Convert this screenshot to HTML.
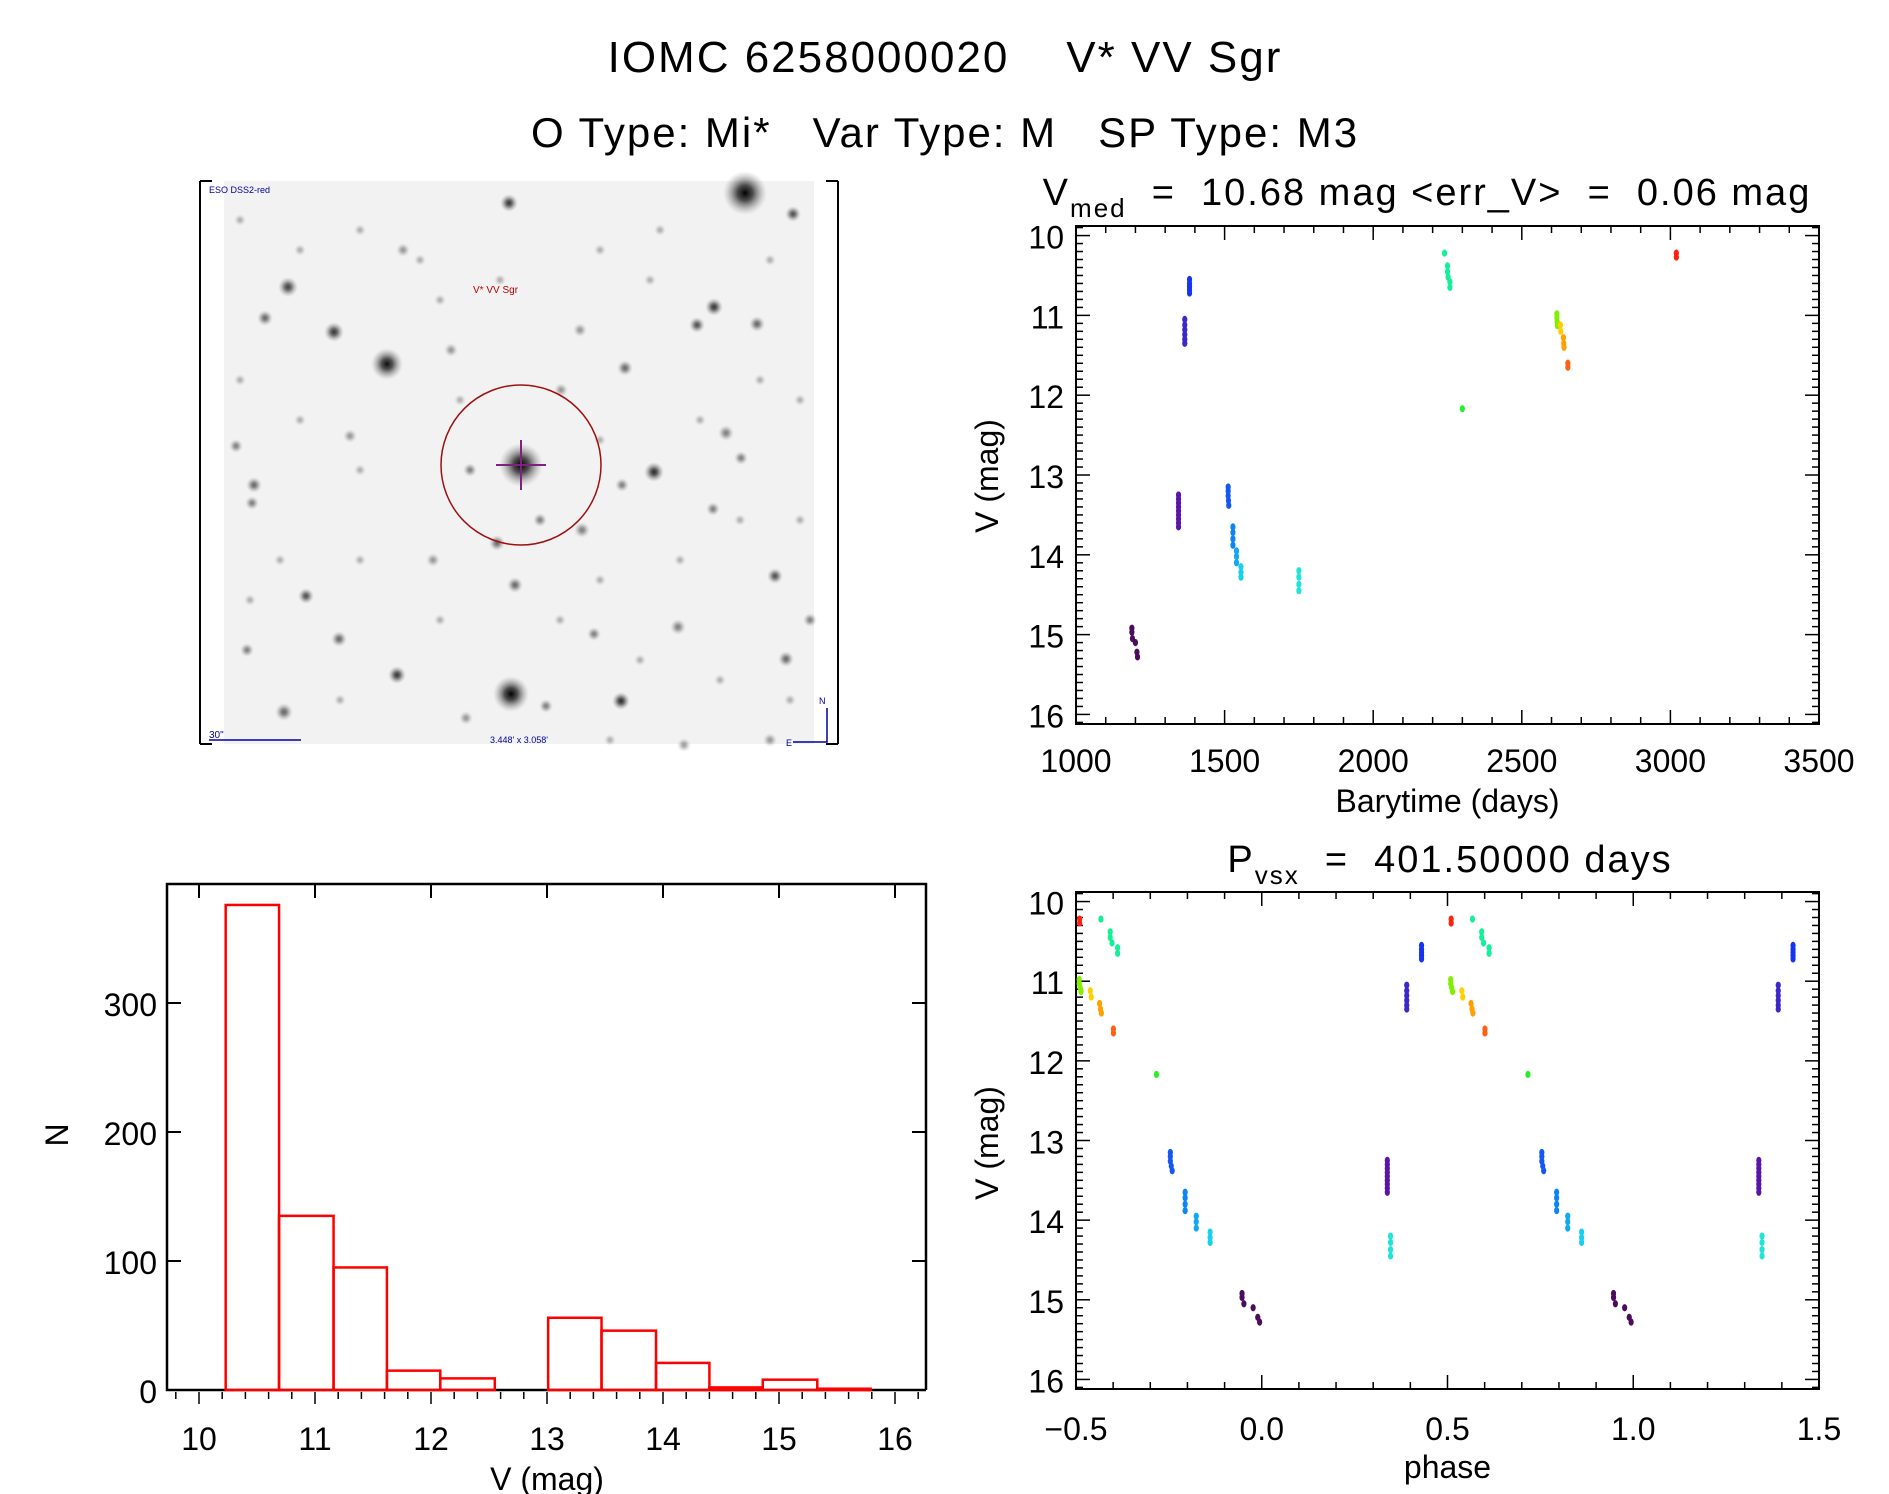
<!DOCTYPE html>
<html><head><meta charset="utf-8"><style>
html,body{margin:0;padding:0;background:#fff}
svg{display:block}
text{font-family:"Liberation Sans",sans-serif;fill:#000;white-space:pre}
</style></head><body>
<svg id="root" width="1889" height="1494" viewBox="0 0 1889 1494" xml:space="preserve">
<rect width="1889" height="1494" fill="#fff"/>
<text x="945" y="72" font-size="44" text-anchor="middle" letter-spacing="2">IOMC 6258000020    V* VV Sgr</text>
<text x="945" y="147" font-size="42" text-anchor="middle" letter-spacing="2">O Type: Mi*   Var Type: M   SP Type: M3</text>

<g id="img">
  <rect x="224" y="181" width="590" height="563" fill="#f2f2f2"/>
  <line x1="200" y1="181" x2="200" y2="744" stroke="#000" stroke-width="2"/>
  <line x1="200" y1="181" x2="212" y2="181" stroke="#000" stroke-width="2"/>
  <line x1="200" y1="744" x2="212" y2="744" stroke="#000" stroke-width="2"/>
  <line x1="838" y1="181" x2="838" y2="744" stroke="#000" stroke-width="2"/>
  <line x1="826" y1="181" x2="838" y2="181" stroke="#000" stroke-width="2"/>
  <line x1="826" y1="744" x2="838" y2="744" stroke="#000" stroke-width="2"/>
  <g id="stars"></g>
  <circle cx="521" cy="465" r="80" fill="none" stroke="#a01010" stroke-width="1.5"/>
  <line x1="496" y1="465" x2="546" y2="465" stroke="#802080" stroke-width="2"/>
  <line x1="521" y1="440" x2="521" y2="490" stroke="#802080" stroke-width="2"/>
  <text x="473" y="293" font-size="10" style="fill:#c00000">V* VV Sgr</text>
  <text x="209" y="193" font-size="9" style="fill:#0000a0">ESO DSS2-red</text>
  <text x="209" y="738" font-size="10" style="fill:#0000a0">30"</text>
  <line x1="209" y1="740" x2="301" y2="740" stroke="#0000a0" stroke-width="1.5"/>
  <text x="490" y="743" font-size="9" style="fill:#0000a0">3.448' x 3.058'</text>
  <path d="M793 742 L827 742 L827 708" fill="none" stroke="#0000a0" stroke-width="1.5"/>
  <text x="819" y="704" font-size="9" style="fill:#0000a0">N</text>
  <text x="786" y="746" font-size="9" style="fill:#0000a0">E</text>
</g>

<g id="lc"></g>
<g id="ph"></g>
<g id="hist"></g>
</svg>
<script>
// ---- data ----
const times = [1188,1188,1190,1200,1205,1207,
 1345,1345,1345,1345,1345,1345,1345,1345,1345,
 1366,1366,1366,1366,1366,1366,
 1382,1382,1382,1382,1382,
 1512,1512,1512,1513,1514,
 1528,1528,1528,1528,
 1540,1540,1540,
 1555,1555,1555,
 1750,1750,1750,1750,
 2240,2250,2250,2252,2258,2258,
 2300,
 2618,2618,2619,2620,
 2630,2631,
 2640,2641,2642,
 2655,2655,
 3020,3020];
const mags = [14.92,14.97,15.05,15.1,15.22,15.28,
 13.25,13.3,13.35,13.4,13.45,13.5,13.55,13.6,13.65,
 11.05,11.12,11.18,11.24,11.3,11.35,
 10.55,10.6,10.64,10.68,10.72,
 13.15,13.2,13.26,13.32,13.38,
 13.65,13.72,13.8,13.88,
 13.95,14.02,14.1,
 14.15,14.22,14.28,
 14.2,14.28,14.37,14.45,
 10.22,10.38,10.45,10.52,10.58,10.65,
 12.17,
 10.98,11.03,11.08,11.13,
 11.12,11.2,
 11.28,11.35,11.4,
 11.6,11.65,
 10.22,10.27];
const colorIdx = [0,0,0,0,0,0, 1,1,1,1,1,1,1,1,1, 2,2,2,2,2,2, 3,3,3,3,3, 4,4,4,4,4, 5,5,5,5, 6,6,6, 7,7,7, 8,8,8,8, 9,9,9,9,9,9, 10, 11,11,11,11, 12,12, 13,13,13, 14,14, 15,15];
const palette = ["#4b0c5c","#5a14a8","#3c28c8","#1434f0","#1458f0","#0c84f4","#10a8f0","#18d0ee","#20e4d8","#14f098","#28f028","#80f000","#ffd000","#ffa000","#ff6010","#ff2010"];
const period = 401.5;
const epoch = 1209.3;
const histEdges = [10.23,10.69,11.16,11.62,12.08,12.55,13.01,13.47,13.94,14.40,14.86,15.33,15.79];
const histCounts = [376,135,95,15,9,0,56,46,21,2,8,1];
const lcXTicks = [1000,1500,2000,2500,3000,3500];
const magTicks = [10,11,12,13,14,15,16];
const phXTicks = [-0.5,0.0,0.5,1.0,1.5];
const phXLabels = ["\u22120.5","0.0","0.5","1.0","1.5"];
const histXTicks = [10,11,12,13,14,15,16];
const histYTicks = [0,100,200,300];

const NS="http://www.w3.org/2000/svg";
function mk(parent,tag,attrs,txt){const e=document.createElementNS(NS,tag);for(const k in attrs)e.setAttribute(k,attrs[k]);if(txt!==undefined)e.textContent=txt;parent.appendChild(e);return e;}
function ln(g,x1,y1,x2,y2,w){return mk(g,"line",{x1,y1,x2,y2,stroke:"#000","stroke-width":w||2});}

// stars decoration
const stars=[[745,193,22,1],[387,364,16,.95],[511,694,18,1],[521,465,22,1],[334,332,10,.8],[654,472,10,.85],[621,701,9,.85],[288,287,10,.75],[509,203,9,.8],[714,307,9,.8],[697,325,8,.7],[397,675,9,.8],[625,368,8,.6],[254,485,8,.6],[306,596,8,.7],[775,576,8,.7],[678,627,8,.5],[339,639,8,.6],[726,433,8,.5],[582,530,8,.5],[497,543,8,.6],[515,585,8,.6],[741,458,7,.5],[793,214,8,.7],[284,712,9,.6],[757,324,8,.6],[265,318,8,.6],[236,446,7,.5],[252,503,7,.5],[810,620,7,.5],[786,659,8,.6],[713,509,7,.5],[594,634,7,.5],[466,718,7,.4],[350,436,7,.4],[433,560,7,.4],[546,706,7,.5],[770,740,7,.4],[247,650,7,.5],[622,485,7,.5],[684,745,7,.4],[403,250,7,.4],[561,390,7,.4],[451,350,7,.4],[580,330,7,.4],[470,470,7,.5],[540,520,7,.5],
[240,220,6,.3],[300,250,6,.3],[360,230,6,.3],[420,260,6,.3],[600,250,6,.3],[660,230,6,.3],[770,260,6,.3],[800,400,6,.3],[760,380,6,.3],[700,420,6,.3],[240,380,6,.3],[300,420,6,.3],[360,470,6,.3],[280,560,6,.3],[360,560,6,.3],[440,620,6,.3],[600,580,6,.3],[680,560,6,.3],[740,520,6,.3],[800,520,6,.3],[720,680,6,.3],[640,660,6,.3],[560,620,6,.3],[340,700,6,.3],[250,600,6,.3],[460,400,6,.3],[600,440,6,.3],[650,280,6,.3],[500,280,6,.3],[440,300,6,.3],[790,700,6,.3],[610,740,6,.3]];
const sg=document.getElementById("stars");
const defs=mk(document.getElementById("root"),"defs",{});
const rg=mk(defs,"radialGradient",{id:"sgrad"});
mk(rg,"stop",{offset:"0%","stop-color":"#000","stop-opacity":"1"});
mk(rg,"stop",{offset:"35%","stop-color":"#222","stop-opacity":"0.8"});
mk(rg,"stop",{offset:"100%","stop-color":"#999","stop-opacity":"0"});
stars.forEach(s=>{const c=mk(sg,"circle",{cx:s[0],cy:s[1],r:s[2],fill:"url(#sgrad)",opacity:s[3]});

});

function frame(g,L,R,T,B){mk(g,"rect",{x:L,y:T,width:R-L,height:B-T,fill:"none",stroke:"#000","stroke-width":2});}

// ---- light curve ----
(function(){
 const g=document.getElementById("lc");
 const L=1076,R=1819,T=226,B=724;
 const x=v=>L+(v-1000)/2500*(R-L);
 const yMin=9.88,yMax=16.12;
 const y=v=>T+(v-yMin)/(yMax-yMin)*(B-T);
 frame(g,L,R,T,B);
 for(let v=1000;v<=3500;v+=100){const maj=v%500===0;const len=maj?14:7;ln(g,x(v),B,x(v),B-len,1.5);ln(g,x(v),T,x(v),T+len,1.5);}
 for(let i=99;i<=161;i++){const v=i/10;const maj=i%10===0;const len=maj?14:7;ln(g,L,y(v),L+len,y(v),1.5);ln(g,R,y(v),R-len,y(v),1.5);}
 lcXTicks.forEach(v=>{const t=mk(g,"text",{x:x(v),y:772,"font-size":32,"text-anchor":"middle"},String(v));
 
 });
 magTicks.forEach(v=>{const t=mk(g,"text",{x:L-12,y:y(v)+13,"font-size":32,"text-anchor":"end"},String(v));
 
 });
 const xl=mk(g,"text",{x:(L+R)/2,y:812,"font-size":32,"text-anchor":"middle"},"Barytime (days)");
 
 
 const yl=mk(g,"text",{x:0,y:0,"font-size":32,"text-anchor":"middle",transform:"translate(998,476) rotate(-90)"},"V (mag)");
 
 
 const tt=mk(g,"text",{x:1427,y:205,"font-size":38,"text-anchor":"middle","letter-spacing":"2"});
 
 
 tt.innerHTML='V<tspan font-size="26" dy="12">med</tspan><tspan dy="-12">  =  10.68 mag &lt;err_V&gt;  =  0.06 mag</tspan>';
 times.forEach((t,i)=>{const c=mk(g,"ellipse",{cx:x(t),cy:y(mags[i]),rx:2.6,ry:3.6,fill:palette[colorIdx[i]]});
 
 });
})();

// ---- phase plot ----
(function(){
 const g=document.getElementById("ph");
 const L=1076,R=1819,T=892,B=1389;
 const x=v=>L+(v+0.5)/2*(R-L);
 const yMin=9.88,yMax=16.12;
 const y=v=>T+(v-yMin)/(yMax-yMin)*(B-T);
 frame(g,L,R,T,B);
 for(let i=-5;i<=15;i++){const v=i/10;const maj=i%5===0;const len=maj?14:7;ln(g,x(v),B,x(v),B-len,1.5);ln(g,x(v),T,x(v),T+len,1.5);}
 for(let i=99;i<=161;i++){const v=i/10;const maj=i%10===0;const len=maj?14:7;ln(g,L,y(v),L+len,y(v),1.5);ln(g,R,y(v),R-len,y(v),1.5);}
 phXTicks.forEach((v,k)=>{const t=mk(g,"text",{x:x(v),y:1440,"font-size":32,"text-anchor":"middle"},phXLabels[k]);
 
 });
 magTicks.forEach(v=>{const t=mk(g,"text",{x:L-12,y:y(v)+13,"font-size":32,"text-anchor":"end"},String(v));
 
 });
 const xl=mk(g,"text",{x:(L+R)/2,y:1478,"font-size":32,"text-anchor":"middle"},"phase");
 
 
 const yl=mk(g,"text",{x:0,y:0,"font-size":32,"text-anchor":"middle",transform:"translate(998,1143) rotate(-90)"},"V (mag)");
 
 
 const tt=mk(g,"text",{x:1450,y:872,"font-size":38,"text-anchor":"middle","letter-spacing":"2"});
 
 
 tt.innerHTML='P<tspan font-size="26" dy="12">vsx</tspan><tspan dy="-12">  =  401.50000 days</tspan>';
 times.forEach((t,i)=>{let p=((t-epoch)/period)%1;if(p<0)p+=1;
  [p-1,p,p+1].forEach(q=>{if(q<-0.5||q>1.5)return;
   const c=mk(g,"ellipse",{cx:x(q),cy:y(mags[i]),rx:2.6,ry:3.6,fill:palette[colorIdx[i]]});
   
   });});
})();

// ---- histogram ----
(function(){
 const g=document.getElementById("hist");
 const L=167,R=926,T=884,B=1390;
 const x0=199,x16=895;
 const x=v=>x0+(v-10)/6*(x16-x0);
 const y=v=>B-v/300*(B-1003);
 mk(g,"polyline",{points:`${R},${B} ${R},${T} ${L},${T} ${L},${B} ${R},${B}`,fill:"none",stroke:"#000","stroke-width":2.5});
 for(let i=-1;i<=31;i++){const v=10+i/5;const px=x(v);if(px<L||px>R)continue;const maj=i%5===0;ln(g,px,B+2,px,B+(maj?14:9),1.5);if(maj)ln(g,px,T,px,T+14,2);}
 histXTicks.forEach(v=>{const t=mk(g,"text",{x:x(v),y:1450,"font-size":32,"text-anchor":"middle"},String(v));
 
 });
 histYTicks.forEach(v=>{ln(g,L,y(v),L+14,y(v),2);ln(g,R,y(v),R-14,y(v),2);
  const t=mk(g,"text",{x:157,y:y(v)+13,"font-size":32,"text-anchor":"end"},String(v));
  
  });
 const xl=mk(g,"text",{x:547,y:1490,"font-size":32,"text-anchor":"middle"},"V (mag)");
 
 
 const yl=mk(g,"text",{x:0,y:0,"font-size":32,"text-anchor":"middle",transform:"translate(68,1135) rotate(-90)"},"N");
 
 
 histCounts.forEach((n,i)=>{const xa=x(histEdges[i]),xb=x(histEdges[i+1]);
  const r=mk(g,"rect",{x:xa,y:y(n),width:xb-xa,height:B-y(n),fill:"none",stroke:"#ff0000","stroke-width":2.5});
  
  });
})();
</script>
</body></html>
